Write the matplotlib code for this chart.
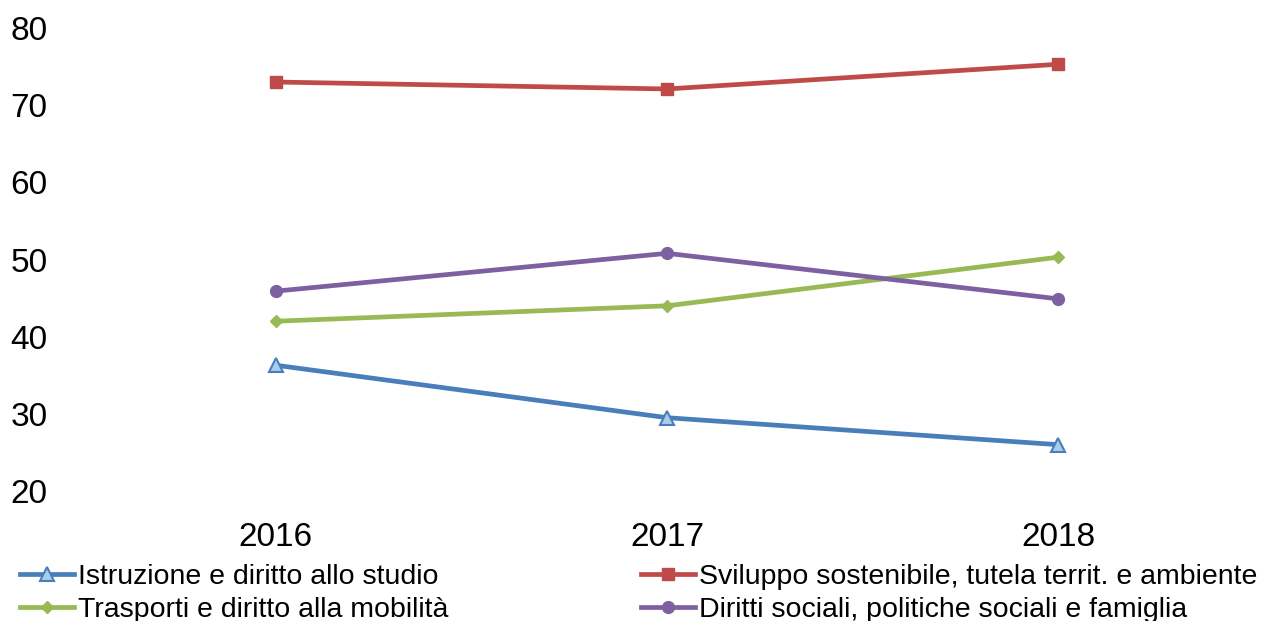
import matplotlib
matplotlib.use("Agg")
import matplotlib.pyplot as plt

years = ["2016", "2017", "2018"]
istruzione = [36.3, 29.5, 26.0]
sviluppo = [73.0, 72.1, 75.3]
trasporti = [42.0, 44.0, 50.3]
diritti = [45.9, 50.8, 44.9]

labels = ["Istruzione e diritto allo studio",
          "Sviluppo sostenibile, tutela territ. e ambiente",
          "Trasporti e diritto alla mobilità",
          "Diritti sociali, politiche sociali e famiglia"]

plt.rcParams['font.family'] = ['Liberation Sans', 'DejaVu Sans']

fig = plt.figure(figsize=(12.61, 6.21), dpi=100)
ax = fig.add_axes([80/1261, 1-491/621, (1254-80)/1261, (491-28)/621])

x = range(len(years))
lw = 3.4
l1, = ax.plot(x, istruzione, color="#4A7EBB", lw=lw, marker="^", ms=10,
              mfc="#A8CCEA", mec="#4A7EBB", mew=1.5, label=labels[0])
l2, = ax.plot(x, sviluppo, color="#BE4B48", lw=lw, marker="s", ms=8.5,
              mfc="#BE4B48", mec="#BE4B48", label=labels[1])
l3, = ax.plot(x, trasporti, color="#98B954", lw=lw, marker="D", ms=6.5,
              mfc="#98B954", mec="#98B954", label=labels[2])
l4, = ax.plot(x, diritti, color="#7D60A0", lw=lw, marker="o", ms=8.5,
              mfc="#7D60A0", mec="#7D60A0", label=labels[3])

ax.set_xlim(-0.5, 2.5)
ax.set_ylim(20, 80)
ax.set_yticks(range(20, 81, 10))
ax.set_xticks(list(x))
ax.set_xticklabels(years)
for s in ax.spines.values():
    s.set_visible(False)
ax.tick_params(axis="both", length=0, labelsize=24)
ax.tick_params(axis="x", pad=22)
for t in ax.get_yticklabels():
    t.set_horizontalalignment("left")
ax.tick_params(axis="y", pad=50)

fig.legend(handles=[l1, l3, l2, l4],
           labels=[labels[0], labels[2], labels[1], labels[3]],
           ncol=2, loc="lower left",
           bbox_to_anchor=(0/1261, -22/621), frameon=False, fontsize=20.5,
           handlelength=1.9, columnspacing=6.75, labelspacing=0.25,
           handletextpad=0.15, borderpad=0.2)

fig.savefig("out.png", dpi=100)
